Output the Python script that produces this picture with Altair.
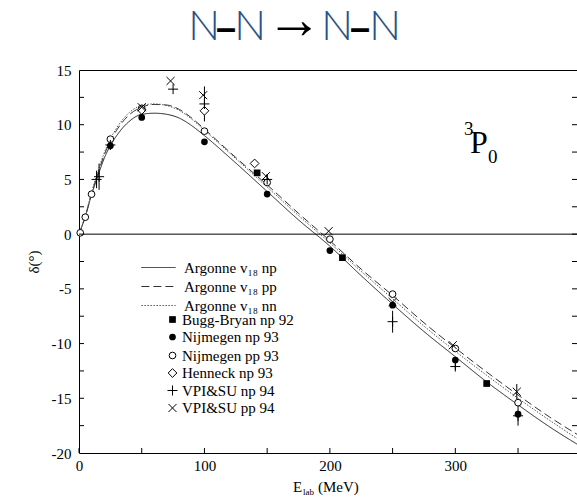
import altair as alt
import pandas as pd

# ---------------- data ----------------
energy_curve = [0, 2, 5, 10, 15, 20, 25, 30, 40, 50, 60, 70, 80, 90, 100, 125, 150, 175, 200, 225, 250, 275, 300, 325, 350, 375, 400]
argonne_np = [0, 0.6, 1.6, 3.6, 5.3, 6.9, 8.1, 9.0, 10.3, 10.95, 11.05, 10.95, 10.6, 9.9, 9.0, 6.5, 3.9, 1.3, -1.1, -3.8, -6.4, -8.9, -11.2, -13.5, -15.6, -17.6, -19.4]
argonne_pp = [0, 0.6, 1.6, 3.7, 5.5, 7.2, 8.5, 9.5, 10.9, 11.6, 11.85, 11.8, 11.4, 10.6, 9.6, 7.0, 4.5, 1.9, -0.6, -3.2, -5.6, -8.1, -10.4, -12.6, -14.7, -16.7, -18.5]
argonne_nn = [0, 0.65, 1.7, 3.8, 5.7, 7.4, 8.7, 9.7, 11.1, 11.75, 11.9, 11.75, 11.3, 10.5, 9.5, 6.9, 4.3, 1.7, -0.8, -3.4, -5.9, -8.4, -10.7, -12.9, -15.0, -17.0, -18.9]
series_names = ["Argonne v\u2081\u2088 np", "Argonne v\u2081\u2088 pp", "Argonne v\u2081\u2088 nn"]

filled_sets = ["Bugg-Bryan np 92", "Nijmegen np 93"]
open_sets = ["Nijmegen pp 93", "Henneck np 93", "VPI&SU np 94", "VPI&SU pp 94"]

bugg_E = [142, 210, 325]
bugg_d = [5.6, -2.15, -13.65]
nijm_np_E = [25, 50, 100, 150, 200, 250, 300, 350]
nijm_np_d = [8.07, 10.67, 8.44, 3.66, -1.5, -6.49, -11.5, -16.45]
nijm_pp_E = [1, 5, 10, 25, 50, 100, 150, 200, 250, 300, 350]
nijm_pp_d = [0.12, 1.55, 3.65, 8.68, 11.5, 9.41, 4.72, -0.46, -5.48, -10.45, -15.4]
henneck_E = [50, 100, 140]
henneck_d = [11.35, 11.27, 6.46]
vpi_np_E = [14, 16, 25, 75, 100, 150, 250, 300, 350]
vpi_np_d = [5.0, 5.25, 8.15, 13.25, 11.9, 5.0, -8.0, -12.1, -16.6]
vpi_np_err = [0.8, 1.2, 0.3, 0.0, 1.6, 0.5, 1.0, 0.3, 0.9]
vpi_pp_E = [50, 73, 99, 149, 199, 250, 298, 349]
vpi_pp_d = [11.6, 14.0, 12.7, 5.3, 0.27, -6.2, -10.15, -14.4]
vpi_pp_err = [0.0, 0.0, 0.0, 0.0, 0.0, 0.0, 0.0, 0.7]

x_tick_values = [0, 50, 100, 150, 200, 250, 300, 350]
x_label_values = [0, 100, 200, 300]
y_tick_values = [-17.5, -15, -12.5, -10, -7.5, -5, -2.5, 0, 2.5, 5, 7.5, 10, 12.5]
y_label_values = [-20, -15, -10, -5, 0, 5, 10, 15]

# ---------------- tables ----------------
curves = pd.DataFrame({
    "E": energy_curve * 3,
    "d": argonne_np + argonne_pp + argonne_nn,
    "series": [series_names[0]] * len(energy_curve) + [series_names[1]] * len(energy_curve)
              + [series_names[2]] * len(energy_curve),
})


def table(groups):
    rows = []
    for name, Es, ds in groups:
        for e, d in zip(Es, ds):
            rows.append({"E": e, "d": d, "set": name})
    return pd.DataFrame(rows)


filled_pts = table([(filled_sets[0], bugg_E, bugg_d), (filled_sets[1], nijm_np_E, nijm_np_d)])
open_pts = table([(open_sets[0], nijm_pp_E, nijm_pp_d), (open_sets[1], henneck_E, henneck_d),
                  (open_sets[2], vpi_np_E, vpi_np_d), (open_sets[3], vpi_pp_E, vpi_pp_d)])

err_rows = []
for Es, ds, errs in [(vpi_np_E, vpi_np_d, vpi_np_err), (vpi_pp_E, vpi_pp_d, vpi_pp_err)]:
    for e, d, s in zip(Es, ds, errs):
        if s > 0:
            err_rows.append({"E": e, "lo": d - s, "hi": d + s})
errors = pd.DataFrame(err_rows)

W, H = 498, 383
SERIF = "Liberation Serif"
xscale = alt.Scale(domain=[0, 397], nice=False, zero=False)
yscale = alt.Scale(domain=[-20, 15], nice=False, zero=False)

x_axis = alt.Axis(values=x_label_values, tickSize=0, domain=False, grid=False,
                  labelFont=SERIF, labelFontSize=15, labelColor="black", labelPadding=5,
                  labelFlush=False, title=None)
y_axis = alt.Axis(values=y_label_values, tickSize=0, domain=False, grid=False,
                  labelFont=SERIF, labelFontSize=15, labelColor="black", labelPadding=8,
                  labelFlush=False,
                  labelExpr="replace(datum.label, '\u2212', '-')",
                  title="\u03b4(\u00b0)", titleFont=SERIF, titleFontSize=15,
                  titleFontWeight="normal", titleColor="black", titlePadding=10)

# custom wide stroke symbol for line legend (length ~34 px, row height stays small)
line_sym = "M-3,0H3"
line_legend = alt.Legend(title=None, orient="none", legendX=72, legendY=190, padding=0,
                         symbolType=line_sym, symbolSize=130, symbolStrokeWidth=1,
                         symbolFillColor="transparent",
                         labelFont=SERIF, labelFontSize=15, labelColor="black",
                         labelOffset=18, rowPadding=3, labelLimit=300)

lines = alt.Chart(curves).mark_line(clip=True, strokeWidth=1, interpolate="monotone").encode(
    x=alt.X("E:Q", scale=xscale, axis=x_axis),
    y=alt.Y("d:Q", scale=yscale, axis=y_axis),
    strokeDash=alt.StrokeDash("series:N", scale=alt.Scale(domain=series_names,
                              range=[[1, 0], [8, 4], [1.5, 1.5]]), legend=line_legend),
    stroke=alt.Stroke("series:N", scale=alt.Scale(domain=series_names,
                      range=["#222222", "#333333", "#555555"]), legend=line_legend),
    detail="series:N",
)

zero_line = alt.Chart(pd.DataFrame({"z": [0]})).mark_rule(color="black", strokeWidth=1).encode(
    y=alt.Y("z:Q", scale=yscale, axis=y_axis)
)

errbars = alt.Chart(errors).mark_rule(color="black", strokeWidth=1).encode(
    x=alt.X("E:Q", scale=xscale, axis=x_axis),
    y=alt.Y("lo:Q", scale=yscale, axis=y_axis),
    y2="hi:Q",
)

plus_path = "M-1.5,0H1.5M0,-1.5V1.5"
x_path = "M-1.2,-1.2L1.2,1.2M-1.2,1.2L1.2,-1.2"
diamond_path = "M0,-1.3L1.3,0L0,1.3L-1.3,0Z"


def pt_legend(ly):
    return alt.Legend(title=None, orient="none", legendX=86, legendY=ly, padding=0,
                      symbolStrokeWidth=1, symbolSize=45,
                      labelFont=SERIF, labelFontSize=15, labelColor="black",
                      labelOffset=2, rowPadding=1.5, labelLimit=300)


pts_open = alt.Chart(open_pts).mark_point(filled=False, color="black", fill="white",
                                          strokeWidth=1, size=45, opacity=1).encode(
    x=alt.X("E:Q", scale=xscale, axis=x_axis),
    y=alt.Y("d:Q", scale=yscale, axis=y_axis),
    shape=alt.Shape("set:N", scale=alt.Scale(domain=open_sets,
                    range=["circle", diamond_path, plus_path, x_path]),
                    legend=pt_legend(278)),
)

pts_filled = alt.Chart(filled_pts).mark_point(filled=True, color="black",
                                              size=45, opacity=1).encode(
    x=alt.X("E:Q", scale=xscale, axis=x_axis),
    y=alt.Y("d:Q", scale=yscale, axis=y_axis),
    shape=alt.Shape("set:N", scale=alt.Scale(domain=filled_sets,
                    range=["square", "circle"]),
                    legend=pt_legend(242)),
)

xticks = alt.Chart(pd.DataFrame({"v": x_tick_values})).mark_rule(color="black", strokeWidth=1).encode(
    x=alt.X("v:Q", scale=xscale, axis=x_axis), y=alt.value(H), y2=alt.value(H - 5))
yticks = alt.Chart(pd.DataFrame({"v": y_tick_values})).mark_rule(color="black", strokeWidth=1).encode(
    y=alt.Y("v:Q", scale=yscale, axis=y_axis), x=alt.value(0), x2=alt.value(5))
yticks_r = alt.Chart(pd.DataFrame({"v": y_tick_values})).mark_rule(color="black", strokeWidth=1).encode(
    y=alt.Y("v:Q", scale=yscale, axis=y_axis), x=alt.value(W - 5), x2=alt.value(W))

base = pd.DataFrame({"a": [0]})


def txt(s, x, y, size, color="black", font=SERIF, align="left", weight="normal"):
    return alt.Chart(base).mark_text(text=s, align=align, baseline="alphabetic", font=font,
                                     fontSize=size, color=color, fontWeight=weight).encode(
        x=alt.value(x), y=alt.value(y))


BLUE = "#2a5185"
TFONT = "Lato"
title_layers = [
    txt("N", 125, -30, 42, BLUE, TFONT, "center", 300),
    txt("\u2013", 147, -30, 36, "black", "Liberation Sans", "center", "bold"),
    txt("N", 171, -30, 42, BLUE, TFONT, "center", 300),
    txt("\u2192", 215, -32, 56, "black", "Liberation Sans", "center"),
    txt("N", 258, -30, 42, BLUE, TFONT, "center", 300),
    txt("\u2013", 281, -30, 36, "black", "Liberation Sans", "center", "bold"),
    txt("N", 306, -30, 42, BLUE, TFONT, "center", 300),
]
wave_layers = [
    txt("3", 385, 65, 19),
    txt("P", 391, 83, 32),
    txt("0", 409, 93, 19),
]
xtitle_layers = [
    txt("E", 214, 422, 15),
    txt("lab", 224, 425, 9),
    txt("(MeV)", 239, 422, 15),
]

chart = alt.layer(
    lines, zero_line, errbars, pts_open, pts_filled, xticks, yticks, yticks_r,
    *title_layers, *wave_layers, *xtitle_layers
).resolve_scale(
    shape="independent"
).properties(
    width=W, height=H,
    autosize=alt.AutoSizeParams(type="none"),
    padding={"left": 79, "top": 70, "right": 0, "bottom": 45},
    background="white",
).configure_view(stroke="black", strokeWidth=1).configure_axis(
    labelFont=SERIF, titleFont=SERIF, labelFontSize=15, titleFontSize=15
)

chart.save("out.html", embed_options={"renderer": "svg", "actions": False})
